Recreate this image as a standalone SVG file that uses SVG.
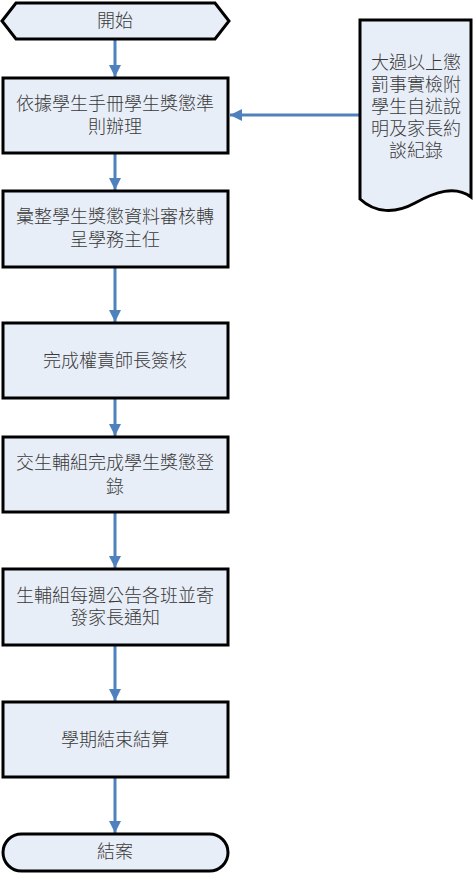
<svg xmlns="http://www.w3.org/2000/svg" width="476" height="873" viewBox="0 0 476 873">
<defs>
<style>
.n{fill:#E8EEF7;stroke:#000;stroke-width:3}
.t{font-family:"Liberation Sans","Noto Sans CJK TC","Noto Sans CJK SC",sans-serif;font-size:18px;font-weight:300;fill:#3a3a3a;text-anchor:middle;dominant-baseline:central}
.c{stroke:#4F81BD;stroke-width:3;fill:none;marker-end:url(#ah)}
</style>
<marker id="ah" viewBox="0 0 10 10" refX="10" refY="5" markerWidth="4" markerHeight="4" orient="auto" markerUnits="strokeWidth">
<path d="M0,0 L10,5 L0,10 z" fill="#4F81BD"/>
</marker>
</defs>
<rect width="476" height="873" fill="#fff"/>
<g id="connectors">
<line class="c" x1="115" y1="40" x2="115" y2="77"/>
<line class="c" x1="115" y1="154" x2="115" y2="190"/>
<line class="c" x1="115" y1="268" x2="115" y2="322"/>
<line class="c" x1="115" y1="399" x2="115" y2="436"/>
<line class="c" x1="115" y1="513" x2="115" y2="568"/>
<line class="c" x1="115" y1="646" x2="115" y2="701"/>
<line class="c" x1="115" y1="778" x2="115" y2="833"/>
<line class="c" x1="360" y1="115" x2="230" y2="115"/>
</g>
<g id="start">
<polygon class="n" points="2,21 16,3 215,3 229,21 215,39 16,39"/>
<text class="t" x="115" y="21">開始</text>
</g>
<g id="step1">
<rect class="n" x="3" y="78" width="225" height="75"/>
<text class="t" x="115" y="104">依據學生手冊學生獎懲準</text>
<text class="t" x="115" y="127">則辦理</text>
</g>
<g id="doc">
<path class="n" d="M360,20 H471 V197 C455,185 435,192 415,203 C395,214 375,213 360,199 Z"/>
<text class="t" x="416" y="63">大過以上懲</text>
<text class="t" x="416" y="85">罰事實檢附</text>
<text class="t" x="416" y="107">學生自述說</text>
<text class="t" x="416" y="129">明及家長約</text>
<text class="t" x="416" y="151">談紀錄</text>
</g>
<g id="step2">
<rect class="n" x="3" y="191" width="225" height="76"/>
<text class="t" x="115" y="217">彙整學生獎懲資料審核轉</text>
<text class="t" x="115" y="240">呈學務主任</text>
</g>
<g id="step3">
<rect class="n" x="3" y="323" width="225" height="75"/>
<text class="t" x="115" y="361">完成權責師長簽核</text>
</g>
<g id="step4">
<rect class="n" x="3" y="437" width="225" height="75"/>
<text class="t" x="115" y="463">交生輔組完成學生獎懲登</text>
<text class="t" x="115" y="487">錄</text>
</g>
<g id="step5">
<rect class="n" x="3" y="569" width="225" height="76"/>
<text class="t" x="115" y="596">生輔組每週公告各班並寄</text>
<text class="t" x="115" y="618">發家長通知</text>
</g>
<g id="step6">
<rect class="n" x="3" y="702" width="225" height="75"/>
<text class="t" x="115" y="740">學期結束結算</text>
</g>
<g id="end">
<rect class="n" x="3" y="834" width="225" height="37" rx="18.5"/>
<text class="t" x="115" y="852">結案</text>
</g>
</svg>
